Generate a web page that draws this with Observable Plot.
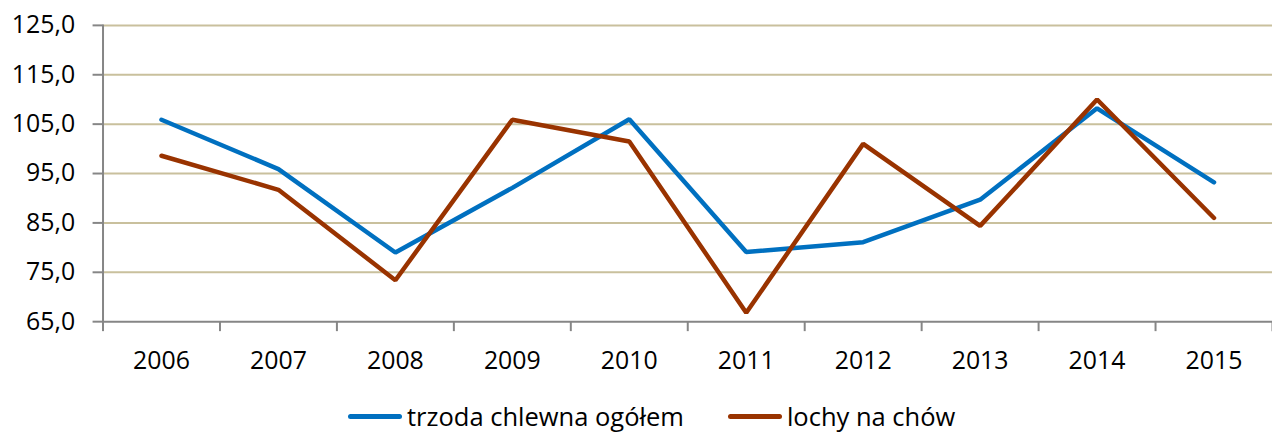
<!DOCTYPE html>
<html>
<head>
<meta charset="utf-8">
<script src="https://cdn.jsdelivr.net/npm/d3@7"></script>
<script src="https://cdn.jsdelivr.net/npm/@observablehq/plot@0.6"></script>
<style>
  html, body { margin: 0; padding: 0; background: #fff; overflow: hidden; width: 1272px; height: 432px; }
  #wrap { position: relative; width: 1272px; height: 432px; font-family: "Open Sans", sans-serif; }
  #chart { position: absolute; left: 0; top: 0; }
  #legend { position: absolute; left: 348px; top: 400px; height: 32px; display: flex; align-items: center; font-size: 25.5px; color: #000; white-space: nowrap; }
  .item { display: flex; align-items: center; }
  .sw { width: 54px; height: 5px; border-radius: 3px; margin-right: 5px; }
</style>
</head>
<body>
<div id="wrap">
  <div id="chart"></div>
  <div id="legend"></div>
</div>
<script>
const years = [2006, 2007, 2008, 2009, 2010, 2011, 2012, 2013, 2014, 2015];
const trzoda = [105.9, 95.9, 79.0, 92.1, 106.0, 79.1, 81.1, 89.7, 108.2, 93.2];
const lochy = [98.6, 91.7, 73.4, 105.9, 101.5, 66.8, 101.0, 84.4, 110.0, 86.0];
const seriesNames = ["trzoda chlewna ogółem", "lochy na chów"];
const seriesColors = ["#0070C0", "#993300"];
const yTicks = [65, 75, 85, 95, 105, 115, 125];

const data = [
  ...years.map((year, i) => ({year, value: trzoda[i], series: seriesNames[0]})),
  ...years.map((year, i) => ({year, value: lochy[i], series: seriesNames[1]}))
];
const bounds = [years[0] - 0.5, ...years.map(y => y + 0.5)];
const fmt = d => d.toFixed(1).replace(".", ",");

const chart = Plot.plot({
  width: 1278,
  height: 385,
  marginLeft: 103,
  marginRight: 0,
  marginTop: 25,
  marginBottom: 62.3,
  style: {fontFamily: "Open Sans, sans-serif", fontSize: "25px", background: "transparent", overflow: "visible"},
  x: {type: "linear", domain: [years[0] - 0.5, years[years.length - 1] + 0.5], axis: null, label: null},
  y: {domain: [yTicks[0], yTicks[yTicks.length - 1]], axis: null, label: null},
  color: {domain: seriesNames, range: seriesColors},
  marks: [
    Plot.ruleY(yTicks.slice(1), {stroke: "#C9C09D", strokeWidth: 2}),
    Plot.frame({anchor: "left", stroke: "#868686", strokeWidth: 2}),
    Plot.frame({anchor: "bottom", stroke: "#868686", strokeWidth: 2}),
    Plot.axisY(yTicks, {anchor: "left", label: null, tickSize: 10, tickPadding: 18, tickFormat: fmt, stroke: "#868686", strokeWidth: 2, fill: "#000", fontSize: 25}),
    Plot.axisX(bounds, {anchor: "bottom", label: null, tickSize: 10, tickFormat: () => "", stroke: "#868686", strokeWidth: 2}),
    Plot.axisX(years, {anchor: "bottom", label: null, tickSize: 0, tickPadding: 29.5, tickFormat: d => String(d), fill: "#000", fontSize: 25}),
    Plot.lineY(data, {x: "year", y: "value", z: "series", stroke: "series", strokeWidth: 4.5, strokeLinejoin: "miter", strokeLinecap: "round"})
  ]
});
document.getElementById("chart").appendChild(chart);

const legend = document.getElementById("legend");
seriesNames.forEach((name, i) => {
  const item = document.createElement("div");
  item.className = "item";
  if (i > 0) item.style.marginLeft = "44px";
  const sw = document.createElement("div");
  sw.className = "sw";
  sw.style.background = seriesColors[i];
  const t = document.createElement("span");
  t.textContent = name;
  item.appendChild(sw);
  item.appendChild(t);
  legend.appendChild(item);
});
</script>
</body>
</html>
